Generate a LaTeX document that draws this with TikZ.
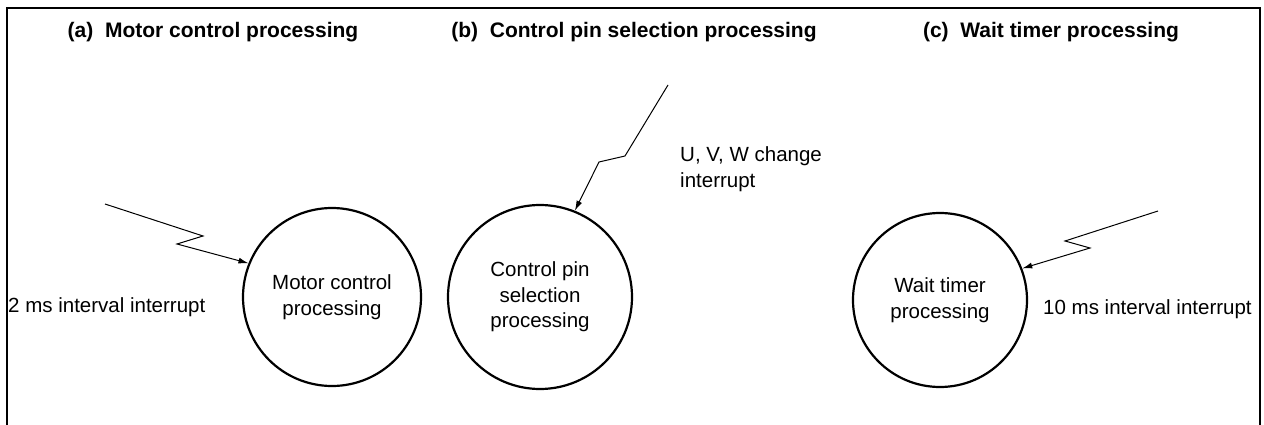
\documentclass[tikz,border=0pt]{standalone}
\usepackage{fontspec}
\setmainfont{Liberation Sans}
\usetikzlibrary{arrows.meta}
\begin{document}
\begin{tikzpicture}[x=1pt,y=-1pt,
  frameline/.style={line width=2.4pt},
  proc/.style={draw, circle, line width=2.2pt, inner sep=0pt, align=center,
    font=\fontsize{20.5}{25.5}\selectfont},
  heading/.style={anchor=base, inner sep=0pt, font=\fontsize{21}{25}\selectfont\bfseries},
  lbl/.style={anchor=north west, inner sep=0pt, align=left,
    font=\fontsize{20.5}{26}\selectfont},
  bolt/.style={line width=1pt, line join=miter,
    -{Latex[length=10pt,width=6pt]}}]
\useasboundingbox (0,0) rectangle (1264,425);

% open frame
\draw[frameline] (7,425) -- (7,8) -- (1260,8) -- (1260,425);

% headings
\node[heading] (ha) at (213,38) {(a)\ \ Motor control processing};
\node[heading] (hb) at (634,38) {(b)\ \ Control pin selection processing};
\node[heading] (hc) at (1051,38) {(c)\ \ Wait timer processing};

% processes
\node[proc, minimum size=178pt] (pa) at (332,297) {Motor control\\processing};
\node[proc, minimum size=184pt] (pb) at (540,297) {Control pin\\selection\\processing};
\node[proc, minimum size=174pt] (pc) at (940,300) {Wait timer\\processing};

% interrupt sources and the kinks of each bolt
\coordinate (sa) at (105,204);
\coordinate (sb) at (668,85);
\coordinate (sc) at (1158,211);
\coordinate (ka1) at (203,236); \coordinate (ka2) at (177,244);
\coordinate (kb1) at (625,156); \coordinate (kb2) at (599,162);
\coordinate (kc1) at (1065,241); \coordinate (kc2) at (1090,248);

\draw[bolt] (sa) -- (ka1) -- (ka2) -- (pa.158.8);
\draw[bolt] (sb) -- (kb1) -- (kb2) -- (pb.68.5);
\draw[bolt] (sc) -- (kc1) -- (kc2) -- (pc.21.3);

% interrupt labels (top of capitals given)
\node[lbl] (la) at (8,297) {2 ms interval interrupt};
\node[lbl] (lb) at (680,146) {U, V, W change\\interrupt};
\node[lbl] (lc) at (1043,299) {10 ms interval interrupt};
\end{tikzpicture}
\end{document}
